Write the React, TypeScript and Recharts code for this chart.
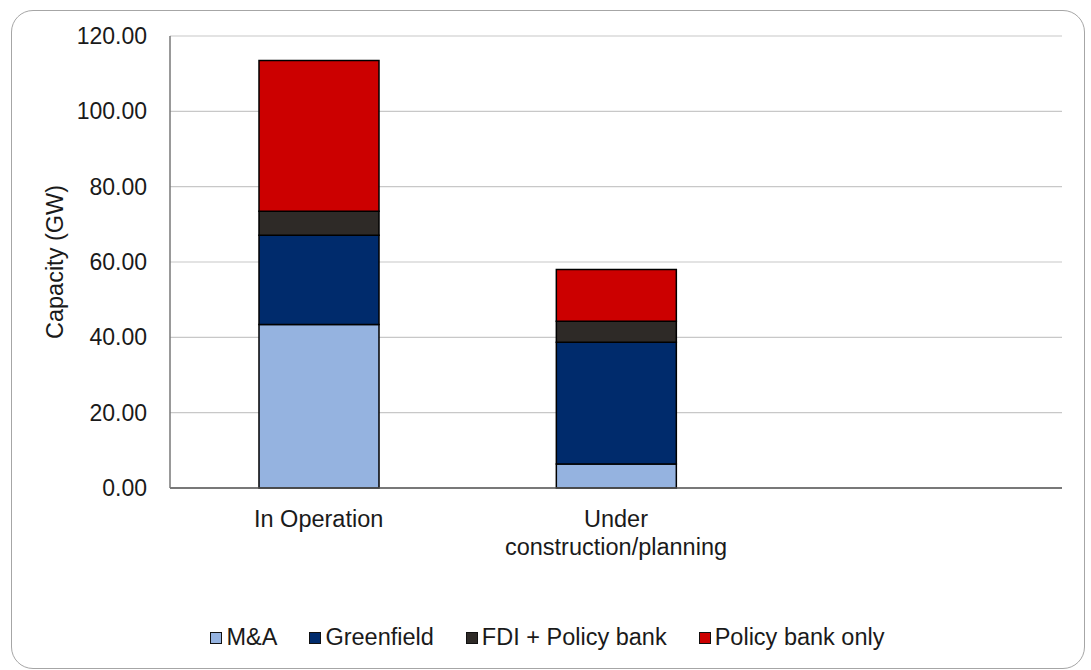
import React from 'react';
import { BarChart, Bar, XAxis, YAxis, CartesianGrid, Legend, Label } from 'recharts';

const categories = ['In Operation', 'Under\nconstruction/planning', ''];
const mna = [43.4, 6.4, null];
const greenfield = [23.7, 32.3, null];
const fdiPolicy = [6.4, 5.6, null];
const policyOnly = [40.0, 13.7, null];
const yTicks = [0, 20, 40, 60, 80, 100, 120];

const seriesInfo = [
  { key: 'mna', name: 'M&A', color: '#95b3e0' },
  { key: 'greenfield', name: 'Greenfield', color: '#002b6c' },
  { key: 'fdi', name: 'FDI + Policy bank', color: '#2e2a27' },
  { key: 'policy', name: 'Policy bank only', color: '#cc0000' },
];

const data = categories.map((c, i) => ({
  category: c,
  mna: mna[i],
  greenfield: greenfield[i],
  fdi: fdiPolicy[i],
  policy: policyOnly[i],
}));

const FONT = '"Liberation Sans", Arial, sans-serif';
const TEXT = '#1a1a1a';

const CategoryTick = (props: any) => {
  const { x, y, payload } = props;
  const lines = String(payload.value).split('\n');
  return (
    <g>
      {lines.map((ln: string, i: number) => (
        <text key={i} x={x} y={y + 31 + i * 28} textAnchor="middle" fontSize={23.5} fill={TEXT} fontFamily={FONT}>
          {ln}
        </text>
      ))}
    </g>
  );
};

const LegendContent = () => (
  <div style={{ display: 'flex', justifyContent: 'center', alignItems: 'center', fontFamily: FONT, fontSize: 23.5, color: TEXT, paddingLeft: 4 }}>
    {seriesInfo.map((s, i) => (
      <div key={s.key} style={{ display: 'flex', alignItems: 'center', marginRight: i < seriesInfo.length - 1 ? 32 : 0 }}>
        <span style={{ display: 'inline-block', width: 10, height: 10, background: s.color, border: '1.5px solid #111', marginRight: 4 }} />
        <span>{s.name}</span>
      </div>
    ))}
  </div>
);

export default function App() {
  return (
    <div style={{ position: 'absolute', left: 0, top: 0, width: 1091, height: 670, background: '#fff', overflow: 'hidden' }}>
      <div style={{ position: 'absolute', left: 11, top: 10, width: 1072, height: 657, border: '1.5px solid #a6a6a6', borderRadius: 22 }} />
      <div style={{ position: 'absolute', left: 0, top: 0 }}>
        <BarChart width={1091} height={670} data={data} margin={{ top: 36, right: 29, left: 0, bottom: 102 }} barSize={120}>
          <CartesianGrid vertical={false} stroke="#c8c8c8" strokeWidth={1.2} />
          <XAxis dataKey="category" height={80} tickLine={false} axisLine={{ stroke: '#555', strokeWidth: 1.5 }} tick={<CategoryTick />} interval={0} />
          <YAxis
            width={170}
            domain={[0, 120]}
            ticks={yTicks}
            tickFormatter={(v: number) => v.toFixed(2)}
            tickLine={false}
            tickSize={0}
            tickMargin={23}
            axisLine={{ stroke: '#777', strokeWidth: 1.5 }}
            tick={{ fontSize: 23, fill: TEXT, fontFamily: FONT }}
          >
            <Label
              content={() => (
                <text transform="translate(55,262) rotate(-90)" textAnchor="middle" dominantBaseline="central" fontSize={23.5} fill={TEXT} fontFamily={FONT}>
                  Capacity (GW)
                </text>
              )}
            />
          </YAxis>
          {seriesInfo.map((s) => (
            <Bar key={s.key} dataKey={s.key} name={s.name} stackId="a" fill={s.color} stroke="#000" strokeWidth={1.5} isAnimationActive={false} />
          ))}
          <Legend layout="horizontal" verticalAlign="middle" align="center" content={<LegendContent />} wrapperStyle={{ top: 624, left: 0, width: 1091 }} />
        </BarChart>
      </div>
    </div>
  );
}
